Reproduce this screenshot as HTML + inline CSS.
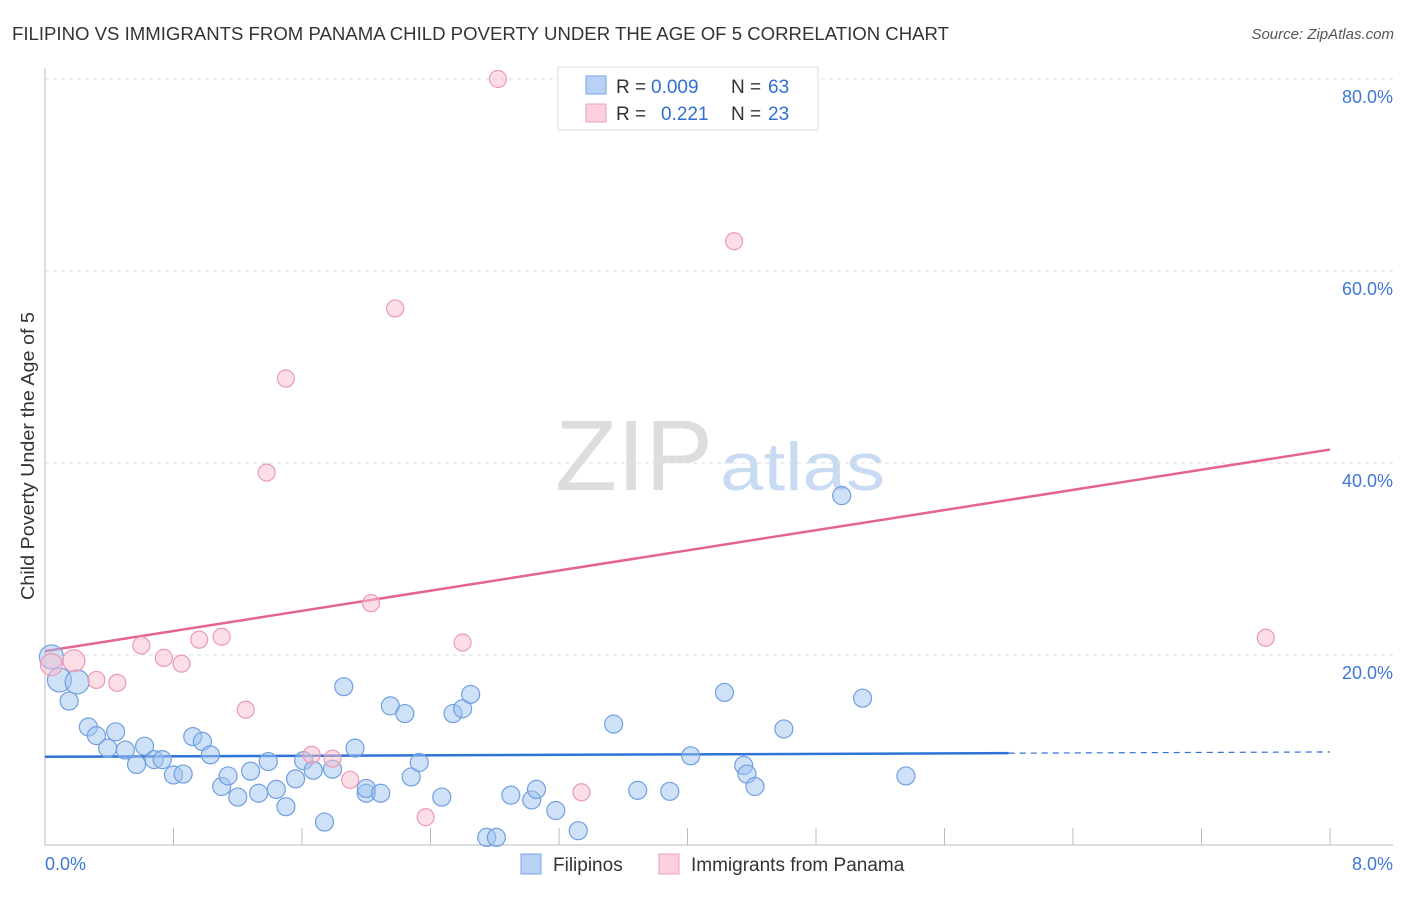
<!DOCTYPE html>
<html><head><meta charset="utf-8"><style>
body{margin:0;background:#fff;font-family:"Liberation Sans",sans-serif;}
svg text{font-family:"Liberation Sans",sans-serif;}
</style></head><body>
<svg id="chart" width="1406" height="892" xmlns="http://www.w3.org/2000/svg">
<text x="12" y="40" font-size="18" fill="#333" textLength="937" lengthAdjust="spacingAndGlyphs">FILIPINO VS IMMIGRANTS FROM PANAMA CHILD POVERTY UNDER THE AGE OF 5 CORRELATION CHART</text>
<text x="1394" y="39" font-size="15" fill="#555" text-anchor="end" font-style="italic">Source: ZipAtlas.com</text>
<text x="555" y="490" font-size="100" fill="#ddd" font-family="Liberation Serif,serif" textLength="158" lengthAdjust="spacingAndGlyphs">ZIP</text>
<text x="720" y="490" font-size="68" fill="#c9daf3" textLength="165" lengthAdjust="spacingAndGlyphs">atlas</text>
<g id="grid"></g>
<g id="axes"></g>
<g id="lines"></g>
<g id="pts"></g>
<text transform="translate(34,456) rotate(-90)" font-size="18" fill="#333" text-anchor="middle" textLength="288" lengthAdjust="spacingAndGlyphs">Child Poverty Under the Age of 5</text>
<g>
<rect x="558" y="67" width="260" height="63" fill="#fff" stroke="#ddd"/>
<rect x="586" y="76" width="20" height="18" fill="#b8d2f5" stroke="#7aa6e6"/>
<rect x="586" y="104" width="20" height="18" fill="#fcd0dc" stroke="#eda3b7"/>
<text x="616" y="93" font-size="19" fill="#333">R =</text><text x="651" y="93" font-size="19" fill="#2f6fd6">0.009</text>
<text x="731" y="93" font-size="19" fill="#333">N =</text><text x="768" y="93" font-size="19" fill="#2f6fd6">63</text>
<text x="616" y="120" font-size="19" fill="#333">R =</text><text x="661" y="120" font-size="19" fill="#2f6fd6">0.221</text>
<text x="731" y="120" font-size="19" fill="#333">N =</text><text x="768" y="120" font-size="19" fill="#2f6fd6">23</text>
</g>
<g>
<rect x="521" y="854" width="20" height="20" fill="#b8d2f5" stroke="#7aa6e6"/>
<text x="553" y="871" font-size="19" fill="#333">Filipinos</text>
<rect x="659" y="854" width="20" height="20" fill="#fcd0dc" stroke="#eda3b7"/>
<text x="691" y="871" font-size="19" fill="#333">Immigrants from Panama</text>
</g>
</svg>
<script>
const xTicks=[0.8,1.6,2.4,3.2,4.0,4.8,5.6,6.4,7.2,8.0];
const yTicks=[20,40,60,80];
const blueX=[0.04,0.09,0.20,0.15,0.27,0.32,0.39,0.44,0.50,0.62,0.57,0.68,0.73,0.80,0.86,0.92,0.98,1.03,1.10,1.14,1.20,1.28,1.33,1.39,1.44,1.50,1.56,1.61,1.67,1.74,1.79,1.86,1.93,2.00,2.00,2.09,2.15,2.24,2.28,2.33,2.47,2.54,2.60,2.65,2.75,2.81,2.90,3.03,3.06,3.18,3.32,3.54,3.69,3.89,4.02,4.23,4.35,4.37,4.42,4.60,4.96,5.09,5.36];
const blueY=[19.8,17.4,17.2,15.2,12.5,11.6,10.3,12.0,10.1,10.5,8.6,9.1,9.1,7.5,7.6,11.5,11.0,9.6,6.3,7.4,5.2,7.9,5.6,8.9,6.0,4.2,7.1,9.0,8.0,2.6,8.1,16.7,10.3,5.6,6.1,5.6,14.7,13.9,7.3,8.8,5.2,13.9,14.4,15.9,1.0,1.0,5.4,4.9,6.0,3.8,1.7,12.8,5.9,5.8,9.5,16.1,8.5,7.6,6.3,12.3,36.6,15.5,7.4];
const pinkX=[0.04,0.18,0.32,0.45,0.60,0.74,0.85,0.96,1.10,1.25,1.38,1.50,1.66,1.79,1.90,2.03,2.18,2.37,2.60,2.82,3.34,4.29,7.60];
const pinkY=[19.0,19.4,17.4,17.1,21.0,19.7,19.1,21.6,21.9,14.3,39.0,48.8,9.6,9.2,7.0,25.4,56.1,3.1,21.3,80.0,5.7,63.1,21.8];
const blueTrend=[9.4,9.9];
const pinkTrend=[20.4,41.4];
const NS="http://www.w3.org/2000/svg";
const X0=45,X1=1330,Y0=847,PY=192/20;
const sx=v=>X0+v/8*(X1-X0), sy=v=>Y0-v*PY;
function mk(t,a,p){const e=document.createElementNS(NS,t);for(const k in a)e.setAttribute(k,a[k]);p.appendChild(e);return e;}
const grid=document.getElementById('grid'),axes=document.getElementById('axes'),lines=document.getElementById('lines'),pts=document.getElementById('pts');
yTicks.forEach(v=>{
 const l=mk('line',{x1:45,x2:1393,y1:sy(v),y2:sy(v),stroke:'#ddd','stroke-dasharray':'4,4'},grid);
 
 
 const t=mk('text',{x:1393,y:sy(v)+24,'font-size':18,fill:'#3b78d8','text-anchor':'end'},axes);
 t.textContent=v.toFixed(1)+'%';
 
 
});
const ax=mk('path',{d:'M45,68V845H1393',fill:'none',stroke:'#bbb'},axes);


xTicks.forEach(v=>{
 const l=mk('line',{x1:sx(v),x2:sx(v),y1:828,y2:845,stroke:'#bbb'},axes);
 
 
});
[[0,'start',45],[8,'end',1393]].forEach(([v,a,x])=>{
 const t=mk('text',{x:x,y:870,'font-size':18,fill:'#3b78d8','text-anchor':a},axes);
 t.textContent=v.toFixed(1)+'%';
 
 
});
const bAt=v=>blueTrend[0]+(blueTrend[1]-blueTrend[0])*v/8;
let l1=mk('line',{x1:sx(0),y1:sy(bAt(0)),x2:sx(6),y2:sy(bAt(6)),stroke:'#2f72d6','stroke-width':2.5},lines);


let l2=mk('line',{x1:sx(6),y1:sy(bAt(6)),x2:sx(8),y2:sy(bAt(8)),stroke:'#2f72d6','stroke-width':1.2,'stroke-dasharray':'6,5'},lines);


let l3=mk('line',{x1:sx(0),y1:sy(pinkTrend[0]),x2:sx(8),y2:sy(pinkTrend[1]),stroke:'#e5648d','stroke-width':2.5},lines);


blueX.forEach((x,i)=>{
 const c=mk('circle',{cx:sx(x),cy:sy(blueY[i]),r:i<3?12:9,fill:'rgba(160,196,240,0.5)',stroke:'#6f9fe2','stroke-width':1.2},pts);
 
 
});
pinkX.forEach((x,i)=>{
 const c=mk('circle',{cx:sx(x),cy:sy(pinkY[i]),r:i<2?11:8.5,fill:'rgba(249,190,206,0.5)',stroke:'#eb9ab2','stroke-width':1.2},pts);
 
 
});
</script>
</body></html>
